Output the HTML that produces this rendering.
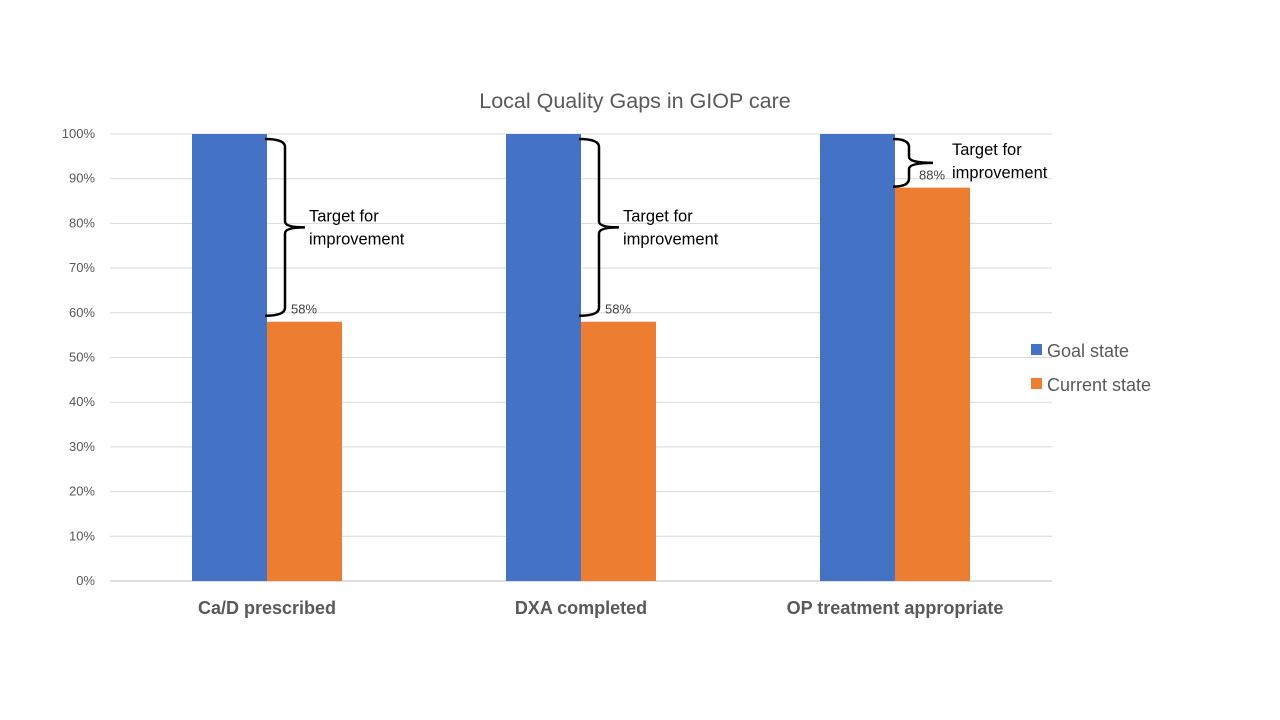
<!DOCTYPE html>
<html><head><meta charset="utf-8"><style>
body{margin:0;background:#fff;}
svg{display:block;font-family:"Liberation Sans",Arial,sans-serif;}
</style></head><body>
<svg id="chart" width="1280" height="720">
<text x="635" y="108" text-anchor="middle" font-size="21.5" fill="#595959">Local Quality Gaps in GIOP care</text>
<g id="grid"></g><g id="bars"></g><g id="ann"></g>
<g>
<rect x="1031" y="344" width="11" height="11" fill="#4472C4"/>
<text x="1047" y="357" font-size="18" fill="#595959">Goal state</text>
<rect x="1031" y="378" width="11" height="11" fill="#ED7D31"/>
<text x="1047" y="391" font-size="18" fill="#595959">Current state</text>
</g>
</svg>
<script>
const categories=["Ca/D prescribed","DXA completed","OP treatment appropriate"];
const goalValues=[100,100,100];
const currentValues=[58,58,88];
const yTicks=[0,10,20,30,40,50,60,70,80,90,100];
const NS="http://www.w3.org/2000/svg";
const x0=110,x1=1052,yb=581,yt=134;
const y=v=>yb-(yb-yt)*v/100;
const bw=(x1-x0)/categories.length;
const cx=i=>x0+bw*(i+0.5);
function mk(tag,attrs,parent,txt){const e=document.createElementNS(NS,tag);for(const k in attrs)e.setAttribute(k,attrs[k]);if(txt!==undefined)e.textContent=txt;document.getElementById(parent).appendChild(e);return e;}
yTicks.forEach(t=>{
 const l=mk('line',{x1:x0,x2:x1,y1:y(t),y2:y(t),stroke:t===0?'#bfbfbf':'#d9d9d9','stroke-width':1},'grid');
 
 
 const tx=mk('text',{x:95,y:y(t)+4,'text-anchor':'end','font-size':13,fill:'#595959'},'grid',t+'%');
 
 
});
categories.forEach((c,i)=>{
 const g=mk('rect',{x:cx(i)-75,y:y(goalValues[i]),width:75,height:yb-y(goalValues[i]),fill:'#4472C4'},'bars');
 
 
 const r=mk('rect',{x:cx(i),y:y(currentValues[i]),width:75,height:yb-y(currentValues[i]),fill:'#ED7D31'},'bars');
 
 
 const lb=mk('text',{x:cx(i)+24,y:y(currentValues[i])-8,'font-size':13,fill:'#404040'},'ann',currentValues[i]+'%');
 
 
 const cl=mk('text',{x:cx(i),y:614,'text-anchor':'middle','font-size':18,'font-weight':'bold',fill:'#595959'},'grid',c);
 
 
 const gap=goalValues[i]-currentValues[i];
 const small=gap<20;
 const top=y(goalValues[i])+5, bot=small?y(currentValues[i])-1:y(currentValues[i])-6, mid=(top+bot)/2;
 const bx=cx(i)-2, w=small?16:20, tip=small?24:20;
 const d=`M${bx},${top} Q${bx+w},${top} ${bx+w},${top+8} L${bx+w},${mid-6} Q${bx+w},${mid} ${bx+w+tip},${mid} Q${bx+w},${mid} ${bx+w},${mid+6} L${bx+w},${bot-8} Q${bx+w},${bot} ${bx},${bot}`;
 const br=mk('path',{d:d,fill:'none',stroke:'#000','stroke-width':2.5},'ann');
 
 
 const tx0=bx+w+tip+(small?19:4);
 const t1=mk('text',{x:tx0,y:small?mid-8:mid-6,'font-size':16.5,fill:'#000'},'ann','Target for');
 
 
 const t2=mk('text',{x:tx0,y:small?mid+15:mid+17,'font-size':16.5,fill:'#000'},'ann','improvement');
 
 
});
</script>
</body></html>
